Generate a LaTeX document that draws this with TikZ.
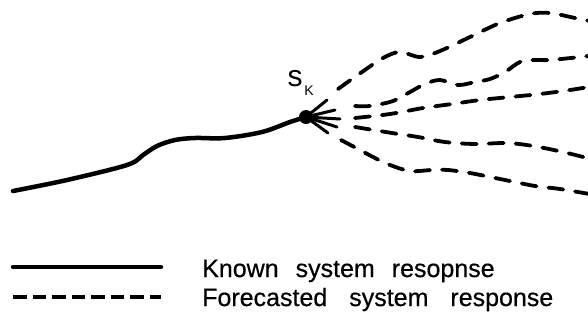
\documentclass[tikz,border=0pt]{standalone}
\usepackage{fontspec}
\setmainfont{Liberation Sans}
\newfontfamily\legendfont[FakeBold=0.5]{Liberation Sans}
\begin{document}
\begin{tikzpicture}[x=1pt,y=-1pt,
  known/.style={line width=4.5pt,line cap=round},
  fore/.style={line width=3.8pt,line cap=round,dash pattern=on 15pt off 12pt},
  fan/.style={line width=3pt,line cap=round},
  legdash/.style={line width=3.6pt,dash pattern=on 13.5pt off 6pt},
  legend/.style={anchor=base west,inner sep=0pt,font=\legendfont\fontsize{25}{28}\selectfont}]
\useasboundingbox (0,0) rectangle (588,322);
% state point
\node[circle,fill,inner sep=0pt,minimum size=14pt] (sk) at (306,117) {};
\node[inner sep=0pt] (labs) at (295,79) {\fontsize{30}{32}\selectfont s};
\node[inner sep=0pt] (labk) at (309,91) {\fontsize{14}{16}\selectfont K};
% known response
\coordinate (ks) at (13,191);
\draw[known] plot[smooth,tension=0.55] coordinates {(ks) (67,180) (127,165) (143,155) (157,146) (175,140) (195,138) (225,138) (262,132) (290,122) (sk.center)};
% fan
\coordinate (f1) at (327,100);
\coordinate (f2) at (335,110);
\coordinate (f3) at (340,119);
\coordinate (f4) at (337,127);
\coordinate (f5) at (328,133);
\foreach \f in {f1,f2,f3,f4,f5} \draw[fan] (sk.center) -- (\f);
% forecasted responses
\coordinate (c1) at (338,89);
\coordinate (c2) at (355,106);
\coordinate (c3) at (355,118);
\coordinate (c4) at (355,127);
\coordinate (c5) at (341,140);
\draw[fore] plot[smooth,tension=0.55] coordinates {(c1) (362,72) (383,58) (400,52) (420,57) (440,51) (470,37) (500,23) (530,14) (550,13) (575,18) (595,22)};
\draw[fore] plot[smooth,tension=0.55] coordinates {(c2) (370,106) (393,101) (410,92) (425,84) (440,80) (458,85) (475,82) (490,79) (505,72) (520,62) (535,60) (550,60) (580,57) (595,55)};
\draw[fore] plot[smooth,tension=0.55] coordinates {(c3) (390,114) (423,108) (452,104) (480,100) (510,97) (540,94) (570,90) (595,86)};
\draw[fore] plot[smooth,tension=0.55] coordinates {(c4) (392,133) (418,137) (445,142) (475,144) (507,143) (533,146) (563,152) (595,160)};
\draw[fore] plot[smooth,tension=0.55] coordinates {(c5) (358,149) (375,158) (390,165) (410,171) (432,170) (448,170) (470,173) (505,180) (535,186) (560,189) (595,195)};
% legend
\coordinate (l1a) at (13,267);
\coordinate (l1b) at (161,267);
\coordinate (l2a) at (13,297);
\coordinate (l2b) at (161,297);
\draw[known] (l1a) -- (l1b);
\draw[legdash] (l2a) -- (l2b);
\node[legend] (t1) at (202,277) {\spaceskip=17pt Known system resopnse};
\node[legend] (t2) at (202,306) {\spaceskip=22pt Forecasted system response};
\end{tikzpicture}
\end{document}
